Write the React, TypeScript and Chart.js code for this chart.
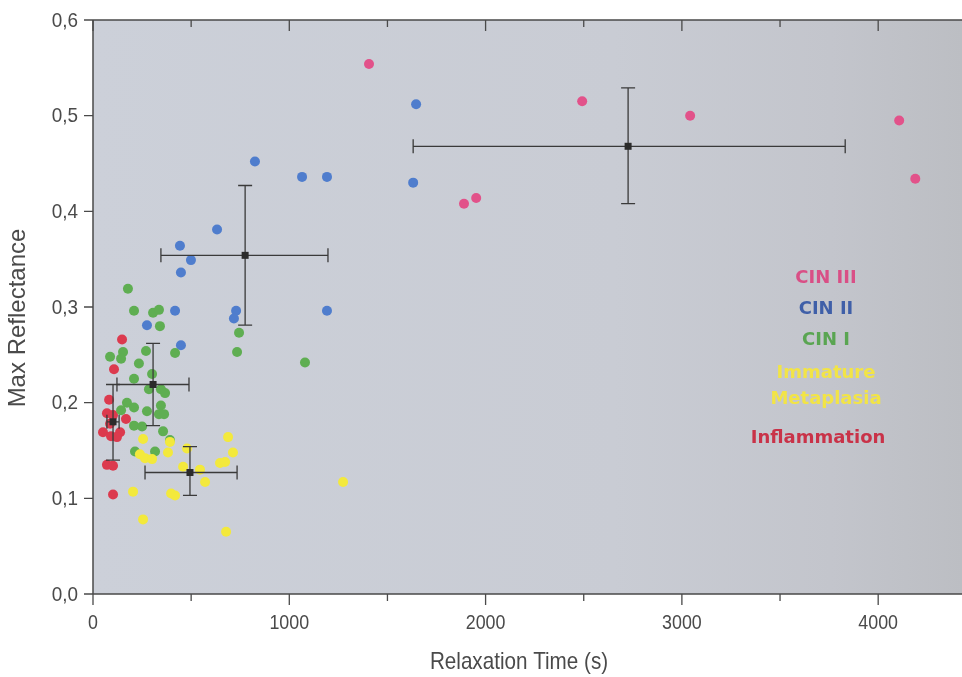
import React, { useEffect, useRef } from "react";
import { Chart, registerables } from "chart.js";

Chart.register(...registerables);

// ---- Data ----
const cin3X = [1406, 1890, 1952, 2492, 3042, 4107, 4189];
const cin3Y = [0.554, 0.408, 0.414, 0.515, 0.5, 0.495, 0.434];

const cin2X = [1646, 1631, 825, 1065, 1192, 632, 443, 499, 448, 418, 729, 718, 1192, 448, 275];
const cin2Y = [0.512, 0.43, 0.452, 0.436, 0.436, 0.381, 0.364, 0.349, 0.336, 0.296, 0.296, 0.288, 0.296, 0.26, 0.281];

const cin1X = [178, 209, 306, 336, 341, 270, 418, 87, 153, 143, 234, 301, 209, 285, 346, 367, 173, 209, 143, 346, 275, 336, 362, 209, 250, 357, 392, 214, 316, 744, 734, 1080];
const cin1Y = [0.319, 0.296, 0.294, 0.297, 0.28, 0.254, 0.252, 0.248, 0.253, 0.246, 0.241, 0.23, 0.225, 0.214, 0.214, 0.21, 0.2, 0.195, 0.192, 0.197, 0.191, 0.188, 0.188, 0.176, 0.175, 0.17, 0.161, 0.149, 0.149, 0.273, 0.253, 0.242];

const metaX = [255, 392, 382, 239, 265, 301, 479, 688, 713, 647, 673, 459, 545, 571, 418, 398, 204, 255, 678, 1274];
const metaY = [0.162, 0.159, 0.148, 0.146, 0.142, 0.141, 0.152, 0.164, 0.148, 0.137, 0.138, 0.133, 0.13, 0.117, 0.103, 0.105, 0.107, 0.078, 0.065, 0.117];

const inflX = [148, 107, 82, 71, 102, 168, 51, 92, 138, 122, 71, 102, 102, 87];
const inflY = [0.266, 0.235, 0.203, 0.189, 0.187, 0.183, 0.169, 0.165, 0.169, 0.164, 0.135, 0.134, 0.104, 0.178];

// Mean ± spread per group: Inflammation, CIN I, Immature Metaplasia, CIN II, CIN III
const errCenterX = [102, 306, 494, 775, 2726];
const errCenterY = [0.18, 0.219, 0.127, 0.354, 0.468];
const errXLow = [71, 122, 265, 346, 1631];
const errXHigh = [133, 489, 734, 1197, 3832];
const errYLow = [0.14, 0.176, 0.103, 0.281, 0.408];
const errYHigh = [0.219, 0.262, 0.154, 0.427, 0.529];

const xTickValues = [0, 1000, 2000, 3000, 4000];
const xTickLabels = ["0", "1000", "2000", "3000", "4000"];
const yTickValues = [0, 0.1, 0.2, 0.3, 0.4, 0.5, 0.6];
const yTickLabels = ["0,0", "0,1", "0,2", "0,3", "0,4", "0,5", "0,6"];

const xTitle = "Relaxation Time (s)";
const yTitle = "Max Reflectance";

const legendLabels = ["CIN III", "CIN II", "CIN I", "Immature", "Metaplasia", "Inflammation"];
const legendColors = ["#d94f86", "#3f5fa8", "#5aa552", "#f2e446", "#f2e446", "#c93248"];

const pts = (xs: number[], ys: number[]) => xs.map((x, i) => ({ x, y: ys[i] }));

const FONT = "'Liberation Sans', Arial, sans-serif";
const TEXT = "#4a4a4a";

function squeezedText(ctx: any, text: string, x: number, y: number, sx: number, align: string) {
  ctx.save();
  ctx.translate(x, y);
  ctx.scale(sx, 1);
  ctx.textAlign = align;
  ctx.fillText(text, 0, 0);
  ctx.restore();
}

const decorPlugin = {
  id: "decor",
  beforeDraw(chart: any) {
    const { ctx, chartArea } = chart;
    const { left, top, right, bottom } = chartArea;
    ctx.save();
    const g = ctx.createLinearGradient(left, 0, right, 0);
    g.addColorStop(0, "#ccd0d9");
    g.addColorStop(0.6, "#c9ccd4");
    g.addColorStop(0.85, "#c3c5cc");
    g.addColorStop(1, "#bcbec3");
    ctx.fillStyle = g;
    ctx.fillRect(left, top, right - left, bottom - top);
    ctx.restore();
  },
  afterDatasetsDraw(chart: any) {
    const { ctx } = chart;
    const xs = chart.scales.x;
    const ys = chart.scales.y;
    ctx.save();
    ctx.strokeStyle = "#3a3a3a";
    ctx.lineWidth = 1.3;
    const cap = 7;
    for (let i = 0; i < errCenterX.length; i++) {
      const cx = xs.getPixelForValue(errCenterX[i]);
      const cy = ys.getPixelForValue(errCenterY[i]);
      const xl = xs.getPixelForValue(errXLow[i]);
      const xh = xs.getPixelForValue(errXHigh[i]);
      const yl = ys.getPixelForValue(errYLow[i]);
      const yh = ys.getPixelForValue(errYHigh[i]);
      ctx.beginPath();
      ctx.moveTo(xl, cy);
      ctx.lineTo(xh, cy);
      ctx.moveTo(xl, cy - cap);
      ctx.lineTo(xl, cy + cap);
      ctx.moveTo(xh, cy - cap);
      ctx.lineTo(xh, cy + cap);
      ctx.moveTo(cx, yl);
      ctx.lineTo(cx, yh);
      ctx.moveTo(cx - cap, yl);
      ctx.lineTo(cx + cap, yl);
      ctx.moveTo(cx - cap, yh);
      ctx.lineTo(cx + cap, yh);
      ctx.stroke();
      ctx.fillStyle = "#2b2b2b";
      ctx.fillRect(cx - 3.5, cy - 3.5, 7, 7);
    }
    ctx.restore();
  },
  afterDraw(chart: any) {
    const { ctx, chartArea } = chart;
    const { left, top, right, bottom } = chartArea;
    const xs = chart.scales.x;
    const ys = chart.scales.y;
    ctx.save();
    ctx.strokeStyle = "#4a4a4a";
    ctx.lineWidth = 1.5;
    ctx.beginPath();
    ctx.moveTo(left, top);
    ctx.lineTo(right, top);
    ctx.moveTo(left, top);
    ctx.lineTo(left, bottom);
    ctx.moveTo(left, bottom);
    ctx.lineTo(right, bottom);
    ctx.stroke();
    ctx.lineWidth = 1.3;
    ctx.beginPath();
    for (let v = 0; v <= xs.max; v += 500) {
      const px = xs.getPixelForValue(v);
      const major = v % 1000 === 0;
      const len = major ? 11 : 7;
      ctx.moveTo(px, bottom);
      ctx.lineTo(px, bottom + len);
      ctx.moveTo(px, top);
      ctx.lineTo(px, top + len);
    }
    for (const v of yTickValues) {
      const py = ys.getPixelForValue(v);
      ctx.moveTo(left, py);
      ctx.lineTo(left - 9, py);
    }
    ctx.stroke();

    // tick labels and axis titles
    ctx.fillStyle = TEXT;
    ctx.textBaseline = "middle";
    ctx.font = `21px ${FONT}`;
    xTickValues.forEach((v, i) => {
      squeezedText(ctx, xTickLabels[i], xs.getPixelForValue(v), bottom + 29, 0.85, "center");
    });
    yTickValues.forEach((v, i) => {
      squeezedText(ctx, yTickLabels[i], left - 15, ys.getPixelForValue(v) + 1, 0.9, "right");
    });
    ctx.font = `24px ${FONT}`;
    squeezedText(ctx, xTitle, 519, 662, 0.86, "center");
    ctx.save();
    ctx.translate(18, 318);
    ctx.rotate(-Math.PI / 2);
    ctx.font = `24px ${FONT}`;
    squeezedText(ctx, yTitle, 0, 0, 1.0, "center");
    ctx.restore();

    // text labels acting as legend
    ctx.font = "bold 18px 'DejaVu Sans', sans-serif";
    ctx.textAlign = "center";
    ctx.textBaseline = "middle";
    const lx = [826, 826, 826, 826, 826, 818];
    const ly = [278, 309, 340, 373, 399, 438];
    legendLabels.forEach((t, i) => {
      ctx.fillStyle = legendColors[i];
      ctx.fillText(t, lx[i], ly[i]);
    });
    ctx.restore();
  },
};

export default function App() {
  const ref = useRef<HTMLCanvasElement | null>(null);
  useEffect(() => {
    if (!ref.current) return;
    const chart = new Chart(ref.current, {
      type: "scatter",
      data: {
        datasets: [
          { label: "Immature Metaplasia", data: pts(metaX, metaY), backgroundColor: "#f3e93c" },
          { label: "CIN I", data: pts(cin1X, cin1Y), backgroundColor: "#5fae52" },
          { label: "Inflammation", data: pts(inflX, inflY), backgroundColor: "#dc3a4e" },
          { label: "CIN II", data: pts(cin2X, cin2Y), backgroundColor: "#4f7dcd" },
          { label: "CIN III", data: pts(cin3X, cin3Y), backgroundColor: "#e2528a" },
        ].map((d) => ({ ...d, pointRadius: 5, pointHoverRadius: 5, borderWidth: 0 })),
      },
      options: {
        responsive: false,
        animation: false,
        layout: { autoPadding: false, padding: { top: 20, right: 0, left: 0, bottom: 0 } },
        plugins: { legend: { display: false }, tooltip: { enabled: false } },
        scales: {
          x: {
            type: "linear",
            min: 0,
            max: 4427,
            afterBuildTicks: (s: any) => {
              s.ticks = xTickValues.map((v) => ({ value: v }));
            },
            afterFit: (s: any) => {
              s.height = 83;
              s.paddingLeft = 0;
              s.paddingRight = 0;
            },
            grid: { display: false },
            border: { display: false },
            ticks: { display: false },
            title: { display: false },
          },
          y: {
            type: "linear",
            min: 0,
            max: 0.6,
            afterBuildTicks: (s: any) => {
              s.ticks = yTickValues.map((v) => ({ value: v }));
            },
            afterFit: (s: any) => {
              s.width = 93;
              s.paddingTop = 0;
              s.paddingBottom = 0;
            },
            grid: { display: false },
            border: { display: false },
            ticks: { display: false },
            title: { display: false },
          },
        },
      },
      plugins: [decorPlugin],
    } as any);
    return () => chart.destroy();
  }, []);
  return (
    <div style={{ position: "absolute", left: 0, top: 0, width: 962, height: 677, background: "#fff" }}>
      <canvas ref={ref} width={962} height={677} style={{ display: "block" }} />
    </div>
  );
}
